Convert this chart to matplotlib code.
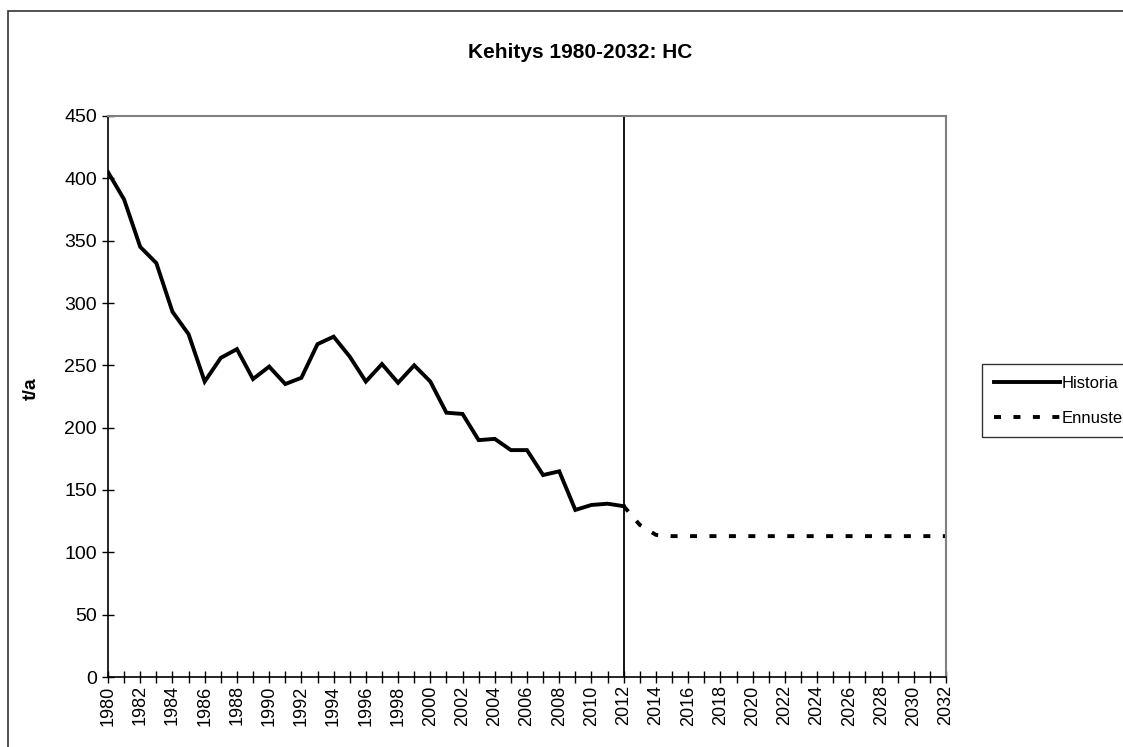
import matplotlib
matplotlib.use("Agg")
import matplotlib.pyplot as plt
from matplotlib.patches import Rectangle

plt.rcParams['font.family'] = ['Liberation Sans', 'DejaVu Sans']

hist_years = list(range(1980, 2013))
hist_values = [405, 383, 345, 332, 293, 275, 237, 256, 263, 239, 249, 235, 240,
               267, 273, 257, 237, 251, 236, 250, 237, 212, 211, 190, 191, 182,
               182, 162, 165, 134, 138, 139, 137]
fc_years = list(range(2012, 2033))
fc_values = [137, 122, 114, 113, 113, 113, 113, 113, 113, 113, 113, 113, 113,
             113, 113, 113, 113, 113, 113, 113, 113]
title = "Kehitys 1980-2032: HC"
ylabel = "t/a"
labels = ["Historia", "Ennuste"]
divider_year = 2012

W, H = 1123, 747
fig = plt.figure(figsize=(W / 100, H / 100), dpi=100)
fig.patch.set_facecolor('white')

# outer chart frame
fig.patches.append(Rectangle((8 / W, -0.05), 1.2, (H - 11) / H + 0.05,
                             transform=fig.transFigure, fill=False,
                             edgecolor='#333333', linewidth=1.2))

ax = fig.add_axes([108 / W, (H - 677) / H, (946 - 108) / W, (677 - 116) / H])
l1, = ax.plot(hist_years, hist_values, color='black', linewidth=2.8,
              solid_joinstyle='miter')
l2, = ax.plot(fc_years, fc_values, color='black', linewidth=2.8,
              linestyle=(0, (1.8, 3.2)), dash_capstyle='butt')
ax.axvline(divider_year, color='black', linewidth=1.3)

ax.set_xlim(1980, 2032)
ax.set_ylim(0, 450)
ax.set_yticks(range(0, 451, 50))
ax.set_xticks(range(1980, 2033, 2))
ax.set_xticks(range(1980, 2033, 1), minor=True)
ax.set_xticklabels([str(y) for y in range(1980, 2033, 2)], rotation=90)
ax.tick_params(axis='both', which='both', direction='inout', length=8,
               width=1, colors='black')
ax.tick_params(axis='x', pad=2, labelsize=13)
ax.tick_params(axis='y', pad=4, labelsize=14)

for s in ['top', 'right']:
    ax.spines[s].set_color('#808080')
    ax.spines[s].set_linewidth(1.5)
for s in ['left', 'bottom']:
    ax.spines[s].set_color('black')
    ax.spines[s].set_linewidth(1.2)

fig.text(580 / W, 1 - 52 / H, title, ha='center', va='center',
         fontsize=15, fontweight='bold')
fig.text(31 / W, 1 - 389 / H, ylabel, ha='center', va='center',
         rotation=90, fontsize=14, fontweight='bold')

leg = fig.legend([l1, l2], labels, loc='upper left',
                 bbox_to_anchor=(982 / W, 1 - 364 / H),
                 frameon=True, fancybox=False, fontsize=12,
                 handlelength=4.0, handletextpad=0.1, borderaxespad=0,
                 borderpad=0.7, labelspacing=1.2)
leg.get_frame().set_edgecolor('black')
leg.get_frame().set_linewidth(1.0)

fig.savefig('out.png', dpi=100, facecolor='white')
